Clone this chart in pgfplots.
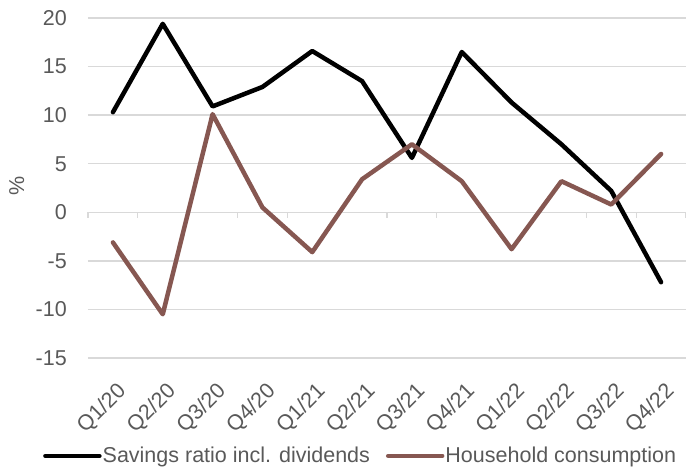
\documentclass[border=0pt]{standalone}
\usepackage{pgfplots}
\pgfplotsset{compat=1.18}
\usepackage{fontspec}
\setmainfont{Liberation Sans}
\definecolor{brownline}{RGB}{134,87,81}
\definecolor{gridgray}{RGB}{217,217,217}
\definecolor{textgray}{RGB}{89,89,89}
\begin{document}
\fontsize{21.5bp}{25bp}\selectfont
\begin{tikzpicture}
\begin{axis}[
  at={(0,0)}, anchor=south west,
  scale only axis, width=598bp, height=340bp,
  xmin=-0.5, xmax=11.5, ymin=-15, ymax=20,
  ytick={-15,-10,...,20},
  xtick={0,...,11},
  xticklabels={Q1/20,Q2/20,Q3/20,Q4/20,Q1/21,Q2/21,Q3/21,Q4/21,Q1/22,Q2/22,Q3/22,Q4/22},
  axis line style={draw=none},
  major tick length=0pt,
  ymajorgrids, grid style={gridgray, line width=1.3bp},
  /pgf/number format/assume math mode=true,
  tick label style={font=\fontsize{21.5bp}{25bp}\selectfont, text=textgray, inner sep=0pt},
  yticklabel style={anchor=east, xshift=-21bp},
  xticklabel style={xshift=10bp, yshift=-30bp, rotate=45, anchor=east},
  ylabel={\%},
  ylabel style={at={(axis description cs:-0.119,0.506)}, anchor=center, rotate=0, font=\fontsize{21.5bp}{25bp}\selectfont, text=textgray},
  legend style={at={(-0.0753,-0.288)}, anchor=west, draw=none, fill=none, legend columns=2,
    font=\fontsize{21.5bp}{25bp}\selectfont, text=textgray, inner sep=0pt,
    nodes={inner sep=1bp},
    /tikz/every even column/.append style={column sep=15bp}},
  legend cell align=left,
  legend image code/.code={\draw[#1, line cap=round] (0bp,0bp) -- (54bp,0bp);},
  clip=false,
]
\draw[gridgray, line width=1.3bp] (axis cs:-0.5,0) -- (axis cs:11.5,0);
\pgfplotsinvokeforeach{-0.5,0.5,1.5,2.5,3.5,4.5,5.5,6.5,7.5,8.5,9.5,10.5,11.5}{
  \draw[gridgray, line width=1.3bp] (axis cs:#1,0) -- ([yshift=-6bp]axis cs:#1,0);
}
\addplot[black, line width=4.5bp, line join=round, line cap=round] coordinates {
(0,10.3) (1,19.4) (2,10.9) (3,12.9) (4,16.6) (5,13.5) (6,5.6) (7,16.5) (8,11.3) (9,7.0) (10,2.2) (11,-7.2)};
\addlegendentry{Savings ratio incl. dividends}
\addplot[brownline, line width=4.5bp, line join=round, line cap=round] coordinates {
(0,-3.1) (1,-10.5) (2,10.1) (3,0.5) (4,-4.1) (5,3.4) (6,7.0) (7,3.2) (8,-3.8) (9,3.2) (10,0.8) (11,6.0)};
\addlegendentry{Household consumption}
\end{axis}
\pgfresetboundingbox
\path (-88bp,-110bp) rectangle (598bp,358bp);
\end{tikzpicture}
\end{document}
